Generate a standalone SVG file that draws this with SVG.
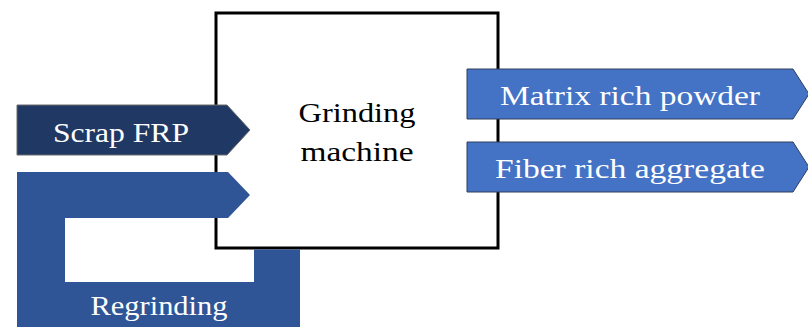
<svg xmlns="http://www.w3.org/2000/svg" width="808" height="327" viewBox="0 0 808 327">
<style>
.t{font-family:"Liberation Serif","Times New Roman",serif;font-size:28px;text-anchor:middle}
.w{fill:#ffffff}
.out{fill:#4472C4;stroke:#2F3E5C;stroke-width:1}
</style>
<rect width="808" height="327" fill="#ffffff"/>
<g id="machine">
<rect x="216" y="13" width="282" height="235" fill="#ffffff" stroke="#000000" stroke-width="3"/>
<text class="t" x="357" y="122" fill="#000" textLength="117" lengthAdjust="spacingAndGlyphs">Grinding</text>
<text class="t" x="357" y="161" fill="#000" textLength="113" lengthAdjust="spacingAndGlyphs">machine</text>
</g>
<g id="connectors">
<g id="regrinding">
<path d="M17,172 H228 L250,195 L228,218 H65 V282 H254 V249.5 H300 V327 H17 Z" fill="#2F5597"/>
<text class="t w" x="159" y="315" textLength="137" lengthAdjust="spacingAndGlyphs">Regrinding</text>
</g>
<g id="scrap">
<path d="M17,105 H227 L250,130 L227,155 H17 Z" fill="#1F3864" stroke="#6b6b6b" stroke-width="1"/>
<text class="t w" x="121" y="142" textLength="136" lengthAdjust="spacingAndGlyphs">Scrap FRP</text>
</g>
</g>
<g id="matrix">
<path class="out" d="M467,69 H793 L809,94 L793,119 H467 Z"/>
<text class="t w" x="630" y="105" textLength="260" lengthAdjust="spacingAndGlyphs">Matrix rich powder</text>
</g>
<g id="fiber">
<path class="out" d="M467,142 H793 L809,167 L793,192 H467 Z"/>
<text class="t w" x="630" y="178" textLength="270" lengthAdjust="spacingAndGlyphs">Fiber rich aggregate</text>
</g>
</svg>
